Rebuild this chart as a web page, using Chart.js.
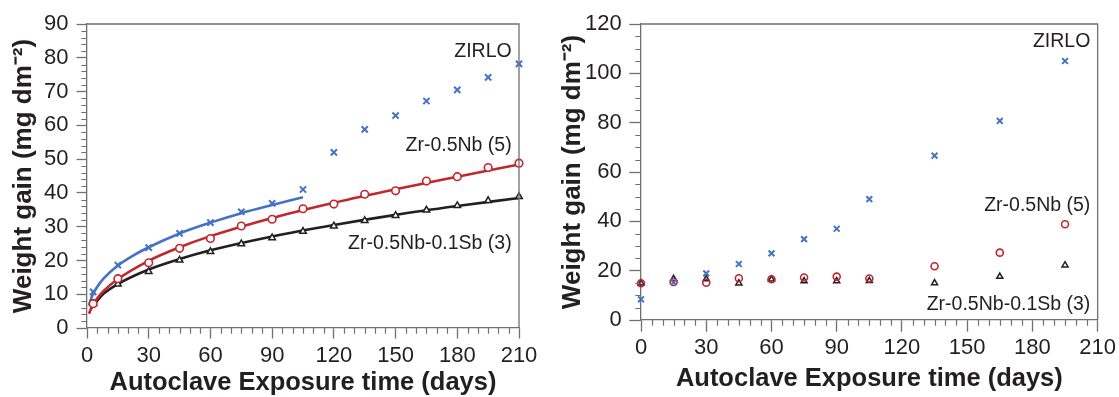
<!DOCTYPE html>
<html><head><meta charset="utf-8">
<script src="https://cdn.jsdelivr.net/npm/chart.js@4.4.0/dist/chart.umd.min.js"></script>
<style>
html,body{margin:0;padding:0;background:#fff;width:1119px;height:397px;overflow:hidden}
canvas{position:absolute;top:0}
#c1{left:0}
#c2{left:550px}
</style></head><body>
<canvas id="c1" width="550" height="397"></canvas>
<canvas id="c2" width="569" height="397"></canvas>
<script>
// ---------- data ----------
const xTicks = [0, 30, 60, 90, 120, 150, 180, 210];
const yTicksLeft = [0, 10, 20, 30, 40, 50, 60, 70, 80, 90];
const yTicksRight = [0, 20, 40, 60, 80, 100, 120];

// left panel: measured points
const daysLeft = [3, 15, 30, 45, 60, 75, 90, 105, 120, 135, 150, 165, 180, 195, 210];
const zirloLeft = [10.7, 18.6, 23.8, 28.0, 31.2, 34.4, 36.9, 41.0, 52.0, 58.8, 62.9, 67.2, 70.5, 74.2, 78.2];
const nbLeft    = [7.2, 14.6, 19.3, 23.6, 26.5, 30.2, 32.2, 35.3, 36.7, 39.6, 40.6, 43.5, 44.8, 47.5, 48.8];
const sbLeft    = [7.2, 13.0, 16.7, 20.1, 22.6, 24.9, 26.7, 28.6, 30.2, 31.8, 33.3, 34.9, 36.2, 37.7, 38.9];

// left panel: fitted curves
const zirloFitDays = [1, 2, 3, 5, 8, 15, 22, 30, 45, 60, 75, 90, 105];
const zirloFit     = [6.7, 8.7, 10.1, 12.2, 14.6, 18.5, 21.3, 23.9, 28.0, 31.2, 34.0, 36.4, 38.7];
const nbFitDays = [1, 2, 3, 5, 8, 15, 30, 45, 60, 90, 120, 150, 180, 210];
const nbFit     = [4.2, 5.8, 6.9, 8.8, 10.9, 14.5, 19.9, 23.9, 27.2, 32.6, 37.1, 41.1, 44.8, 48.4];
const sbFitDays = [2, 3, 5, 8, 15, 30, 45, 60, 90, 120, 150, 180, 210];
const sbFit     = [5.7, 6.6, 8.1, 10.1, 13.0, 17.3, 20.4, 23.0, 27.1, 30.5, 33.5, 36.1, 38.5];

// right panel: measured points
const daysRight  = [0, 15, 30, 45, 60, 75, 90, 105, 135, 165, 195];
const zirloRight = [8.4, 15.3, 18.9, 22.7, 27.0, 32.8, 37.0, 49.0, 66.6, 80.7, 105.0];
const nbRight    = [14.9, 15.4, 15.1, 16.9, 16.5, 17.2, 17.6, 16.8, 21.8, 27.3, 38.8];
const sbRight    = [14.9, 16.7, 16.6, 14.9, 16.5, 15.8, 15.8, 15.9, 15.0, 17.6, 22.2];

const seriesNames = ['ZIRLO', 'Zr-0.5Nb (5)', 'Zr-0.5Nb-0.1Sb (3)'];
const xTitle = 'Autoclave Exposure time (days)';
const yTitle = 'Weight gain (mg dm\u207B\u00B2)';

// ---------- styles ----------
const FONT = '"Liberation Sans", Arial, Helvetica, sans-serif';
const AXIS = '#707070';
const TXT = '#231f20';
const BLUE = '#4472c4';
const RED = '#c1272d';
const BLACK = '#231f20';

const pts = (xs, ys) => xs.map((d, i) => ({x: d, y: ys[i]}));

const frameAndMinor = {
  id: 'frameAndMinor',
  afterDraw(chart, args, o) {
    const {ctx, chartArea: a, scales: {x, y}} = chart;
    ctx.save();
    ctx.strokeStyle = AXIS;
    ctx.lineWidth = 1.2;
    ctx.beginPath();
    for (let v = x.min + o.xStep; v < x.max; v += o.xStep) {
      if (Math.abs(v % o.xMajor) < 1e-6) continue;
      const px = Math.round(x.getPixelForValue(v)) + 0.5;
      ctx.moveTo(px, a.bottom); ctx.lineTo(px, a.bottom + o.len);
    }
    for (let v = y.min + o.yStep; v < y.max; v += o.yStep) {
      if (Math.abs(v % o.yMajor) < 1e-6) continue;
      const py = Math.round(y.getPixelForValue(v)) + 0.5;
      ctx.moveTo(a.left, py); ctx.lineTo(a.left - o.len, py);
    }
    ctx.stroke();
    ctx.lineWidth = 1.3;
    ctx.beginPath();
    ctx.moveTo(a.left, a.top); ctx.lineTo(a.right, a.top); ctx.lineTo(a.right, a.bottom);
    ctx.stroke();
    ctx.restore();
  }
};

const seriesLabels = {
  id: 'seriesLabels',
  afterDraw(chart, args, o) {
    const {ctx, chartArea: a, scales: {y}} = chart;
    ctx.save();
    ctx.font = '19.5px ' + FONT;
    ctx.fillStyle = TXT;
    ctx.textAlign = 'right';
    ctx.textBaseline = 'middle';
    o.items.forEach(it => ctx.fillText(it.text, a.right - o.inset, y.getPixelForValue(it.y)));
    ctx.restore();
  }
};

function makeChart(id, cfg) {
  const xs = {
    type: 'linear', min: xTicks[0], max: xTicks[xTicks.length - 1],
    afterFit(s) { s.height = cfg.xHeight; },
    afterBuildTicks(s) { s.ticks = xTicks.map(v => ({value: v})); },
    border: {color: AXIS, width: 1.3},
    grid: {drawOnChartArea: false, drawTicks: true, tickLength: cfg.tickLen, tickColor: AXIS, tickWidth: 1.3},
    ticks: {color: TXT, font: {family: FONT, size: 22}, padding: cfg.xPad, maxRotation: 0, autoSkip: false},
    title: {display: true, text: xTitle, color: TXT,
      font: {family: FONT, size: 25.5, weight: 'bold', lineHeight: 1},
      padding: {top: 0, bottom: cfg.xTitlePad}}
  };
  const ys = {
    type: 'linear', min: cfg.yTicks[0], max: cfg.yTicks[cfg.yTicks.length - 1],
    afterFit(s) { s.width = cfg.yWidth; },
    afterBuildTicks(s) { s.ticks = cfg.yTicks.map(v => ({value: v})); },
    border: {color: AXIS, width: 1.3},
    grid: {drawOnChartArea: false, drawTicks: true, tickLength: cfg.tickLen, tickColor: AXIS, tickWidth: 1.3},
    ticks: {color: TXT, font: {family: FONT, size: 22}, padding: cfg.yPad, autoSkip: false},
    title: {display: true, text: yTitle, color: TXT,
      font: {family: FONT, size: 26, weight: 'bold', lineHeight: 1},
      padding: {top: cfg.yTitlePad, bottom: 0}}
  };
  return new Chart(document.getElementById(id), {
    type: 'line',
    data: {datasets: cfg.datasets},
    options: {
      responsive: false, animation: false, events: [], devicePixelRatio: 1,
      layout: {padding: cfg.padding},
      scales: {x: xs, y: ys},
      plugins: {
        legend: {display: false}, tooltip: {enabled: false},
        frameAndMinor: cfg.minor,
        seriesLabels: cfg.labels
      }
    },
    plugins: [frameAndMinor, seriesLabels]
  });
}

const markerSets = (xs, a, b, c, fill, r) => [
  {data: pts(xs, a), showLine: false, pointStyle: 'crossRot', pointRadius: r + 0.6, pointBorderWidth: 2,
   pointBorderColor: BLUE, pointBackgroundColor: BLUE, order: 1, clip: false},
  {data: pts(xs, b), showLine: false, pointStyle: 'circle', pointRadius: r, pointBorderWidth: 1.6,
   pointBorderColor: RED, pointBackgroundColor: fill, order: 2, clip: false},
  {data: pts(xs, c), showLine: false, pointStyle: 'triangle', pointRadius: r, pointBorderWidth: 1.5,
   pointBorderColor: BLACK, pointBackgroundColor: fill, order: 3, clip: false}
];
const curve = (xs, ys, color, order) => ({
  data: pts(xs, ys), pointRadius: 0, borderColor: color, borderWidth: 2.6,
  cubicInterpolationMode: 'monotone', order: order
});

makeChart('c1', {
  padding: {left: 0, top: 24, right: 31, bottom: 0},
  xHeight: 69, yWidth: 87, tickLen: 10.5, xPad: 4, yPad: 8, xTitlePad: 1.5, yTitlePad: 10.6,
  yTicks: yTicksLeft,
  datasets: [
    ...markerSets(daysLeft, zirloLeft, nbLeft, sbLeft, '#ffffff', 3.8),
    curve(zirloFitDays, zirloFit, BLUE, 4),
    curve(nbFitDays, nbFit, RED, 5),
    curve(sbFitDays, sbFit, BLACK, 6)
  ],
  minor: {xStep: 5, xMajor: 30, yStep: 2, yMajor: 10, len: 5.7},
  labels: {inset: 7.3, items: [
    {text: seriesNames[0], y: 81.8},
    {text: seriesNames[1], y: 53.9},
    {text: seriesNames[2], y: 25.1}
  ]}
});

makeChart('c2', {
  padding: {left: 0, top: 24, right: 20, bottom: 0},
  xHeight: 77, yWidth: 91, tickLen: 11.7, xPad: 3, yPad: 7.6, xTitlePad: 5.5, yTitlePad: 9.5,
  yTicks: yTicksRight,
  datasets: markerSets(daysRight, zirloRight, nbRight, sbRight, 'rgba(0,0,0,0)', 3.5),
  minor: {xStep: 5, xMajor: 30, yStep: 5, yMajor: 20, len: 5.7},
  labels: {inset: 7.3, items: [
    {text: seriesNames[0], y: 112.8},
    {text: seriesNames[1], y: 46.3},
    {text: seriesNames[2], y: 6.4}
  ]}
});
</script></body></html>
